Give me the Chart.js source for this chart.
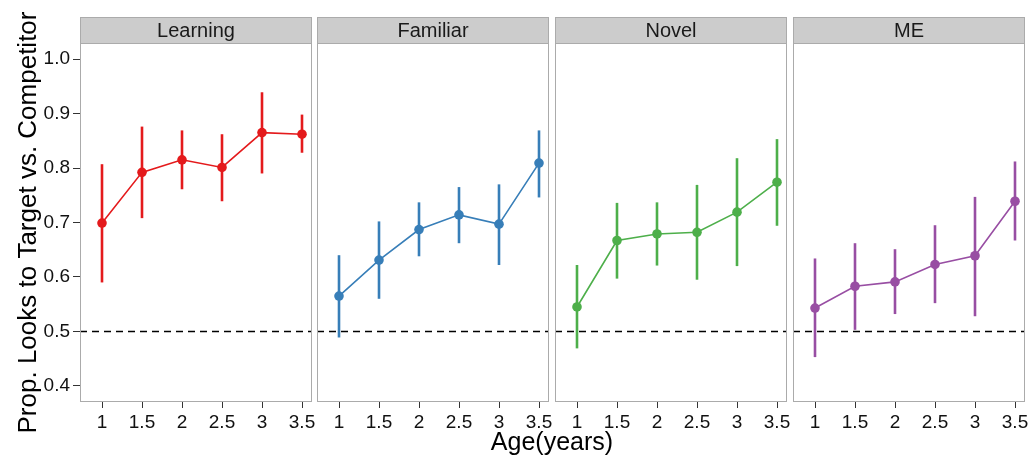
<!DOCTYPE html>
<html>
<head>
<meta charset="utf-8">
<script src="https://cdn.jsdelivr.net/npm/chart.js@4.4.1/dist/chart.umd.min.js"></script>
<style>
  html, body { margin: 0; background: #fff; overflow: hidden; }
  #wrap { position: relative; width: 1036px; height: 462px; font-family: "Liberation Sans", Arial, sans-serif; }
  #wrap canvas { position: absolute; left: 0; top: 0; }
  #xtitle { position: absolute; left: 352px; width: 400px; top: 429px; text-align: center;
            font-size: 25px; line-height: 25px; color: #000; }
</style>
</head>
<body>
<div id="wrap">
  <canvas id="c0" width="1036" height="462"></canvas>
  <canvas id="c1" width="1036" height="462"></canvas>
  <canvas id="c2" width="1036" height="462"></canvas>
  <canvas id="c3" width="1036" height="462"></canvas>
  <div id="xtitle">Age(years)</div>
</div>
<script>
// dati
const ages = [1, 1.5, 2, 2.5, 3, 3.5];
const panels = ["Learning", "Familiar", "Novel", "ME"];
const colori = ["#E41A1C", "#377EB8", "#4DAF4A", "#984EA3"];

const learningMean = [0.699, 0.792, 0.815, 0.801, 0.865, 0.862];
const learningLow  = [0.590, 0.708, 0.761, 0.739, 0.790, 0.828];
const learningHigh = [0.807, 0.876, 0.869, 0.862, 0.939, 0.898];

const familiarMean = [0.565, 0.631, 0.687, 0.714, 0.697, 0.809];
const familiarLow  = [0.489, 0.560, 0.638, 0.662, 0.622, 0.746];
const familiarHigh = [0.640, 0.702, 0.737, 0.765, 0.770, 0.869];

const novelMean = [0.545, 0.667, 0.679, 0.682, 0.719, 0.774];
const novelLow  = [0.469, 0.597, 0.621, 0.595, 0.620, 0.694];
const novelHigh = [0.622, 0.736, 0.737, 0.769, 0.818, 0.853];

const meMean = [0.543, 0.583, 0.591, 0.623, 0.639, 0.739];
const meLow  = [0.453, 0.503, 0.532, 0.552, 0.528, 0.667];
const meHigh = [0.634, 0.662, 0.651, 0.695, 0.747, 0.812];

const yTicks = [0.4, 0.5, 0.6, 0.7, 0.8, 0.9, 1.0];
const xTicks = [1, 1.5, 2, 2.5, 3, 3.5];
const chance = 0.5;

const serie = [
  [learningMean, learningLow, learningHigh],
  [familiarMean, familiarLow, familiarHigh],
  [novelMean, novelLow, novelHigh],
  [meMean, meLow, meHigh]
];

// posizione dei pannelli (pixel)
const panelLeft = [80, 317, 555, 793];
const panelWidth = 232;
const FONT = "'Liberation Sans', Arial, sans-serif";

const pannelloPlugin = {
  id: "pannello",
  beforeDatasetsDraw(chart) {
    const { ctx, chartArea: a, scales } = chart;
    const y = scales.y;
    ctx.save();
    // linea tratteggiata a 0.5
    ctx.strokeStyle = "#000";
    ctx.lineWidth = 1.4;
    ctx.setLineDash([7, 5]);
    ctx.beginPath();
    const yp = y.getPixelForValue(chance);
    ctx.moveTo(a.left, yp);
    ctx.lineTo(a.right, yp);
    ctx.stroke();
    ctx.setLineDash([]);
    // barre d'errore
    const ds = chart.data.datasets[0];
    ctx.strokeStyle = ds.borderColor;
    ctx.lineWidth = 2.6;
    ages.forEach((age, i) => {
      const xp = scales.x.getPixelForValue(age);
      ctx.beginPath();
      ctx.moveTo(xp, y.getPixelForValue(ds.low[i]));
      ctx.lineTo(xp, y.getPixelForValue(ds.high[i]));
      ctx.stroke();
    });
    ctx.restore();
  },
  afterDraw(chart, args, opts) {
    const { ctx, chartArea: a } = chart;
    ctx.save();
    // striscia del titolo
    ctx.fillStyle = "#CCCCCC";
    ctx.fillRect(a.left, 17, a.right - a.left, a.top - 17);
    ctx.strokeStyle = "#ababab";
    ctx.lineWidth = 1;
    ctx.strokeRect(a.left + 0.5, 17.5, a.right - a.left - 1, a.top - 17);
    ctx.strokeRect(a.left + 0.5, a.top + 0.5, a.right - a.left - 1, a.bottom - a.top - 1);
    ctx.fillStyle = "#1a1a1a";
    ctx.font = "20px " + FONT;
    ctx.textAlign = "center";
    ctx.textBaseline = "alphabetic";
    ctx.fillText(opts.label, (a.left + a.right) / 2, 37);
    ctx.restore();
  }
};

function disegnaPannello(k) {
  const primo = k === 0;
  const [media, basso, alto] = serie[k];
  const left = panelLeft[k];
  new Chart(document.getElementById("c" + k), {
    type: "line",
    data: {
      datasets: [{
        data: ages.map((a, i) => ({ x: a, y: media[i] })),
        low: basso,
        high: alto,
        borderColor: colori[k],
        backgroundColor: colori[k],
        borderWidth: 1.6,
        pointRadius: 4.8,
        pointBorderWidth: 0,
        tension: 0
      }]
    },
    plugins: [pannelloPlugin],
    options: {
      responsive: false,
      animation: false,
      devicePixelRatio: 1,
      layout: {
        autoPadding: false,
        padding: { left: primo ? 0 : left, right: 1036 - left - panelWidth, top: 43, bottom: 0 }
      },
      plugins: {
        legend: { display: false },
        tooltip: { enabled: false },
        pannello: { label: panels[k] }
      },
      scales: {
        x: {
          type: "linear",
          min: 0.725,
          max: 3.625,
          afterBuildTicks: s => { s.ticks = xTicks.map(v => ({ value: v })); },
          afterFit: s => { s.height = 60; },
          grid: { display: true, drawOnChartArea: false, drawTicks: true, tickLength: 6, tickColor: "#333", tickWidth: 1 },
          border: { display: false },
          ticks: { color: "#111", font: { family: FONT, size: 19 }, padding: 3, maxRotation: 0, autoSkip: false,
                   callback: v => String(v) }
        },
        y: {
          display: primo,
          min: 0.3706,
          max: 1.0294,
          afterBuildTicks: s => { s.ticks = yTicks.map(v => ({ value: v })); },
          afterFit: s => { s.width = primo ? 80 : 0; },
          grid: { display: true, drawOnChartArea: false, drawTicks: true, tickLength: 7, tickColor: "#333", tickWidth: 1 },
          border: { display: false },
          ticks: { color: "#111", font: { family: FONT, size: 19 }, padding: 3,
                   callback: v => v.toFixed(1) },
          title: {
            display: primo,
            text: "Prop. Looks to Target vs. Competitor",
            color: "#000",
            font: { family: FONT, size: 26 },
            padding: { top: 13, bottom: 0 }
          }
        }
      }
    }
  });
}

panels.forEach((_, k) => disegnaPannello(k));
</script>
</body>
</html>
